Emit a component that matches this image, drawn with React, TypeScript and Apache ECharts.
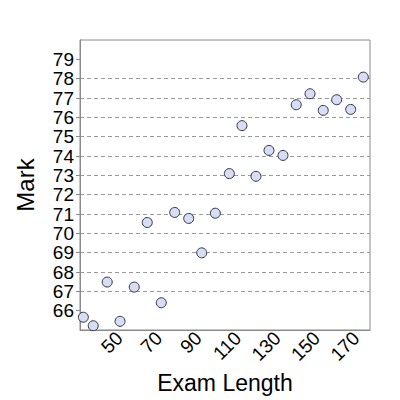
import { useEffect, useRef } from 'react'
import * as echarts from 'echarts'

// exam length vs mark
const examLength = [
  31.7, 36.7, 43.8, 50.3, 57.5, 64.1, 71.2, 78.0, 85.1, 91.7, 98.6,
  105.7, 112.1, 119.2, 125.8, 132.9, 139.6, 146.6, 153.3, 160.1, 167.2, 173.6,
]
const mark = [
  65.66, 65.22, 67.48, 65.45, 67.22, 70.56, 66.41, 71.08, 70.77, 68.99, 71.04,
  73.09, 75.57, 72.95, 74.29, 74.03, 76.65, 77.22, 76.36, 76.91, 76.41, 78.08,
]
const xTicks = [50, 70, 90, 110, 130, 150, 170]
const yTicks = [66, 67, 68, 69, 70, 71, 72, 73, 74, 75, 76, 77, 78, 79]

const FONT = "'Liberation Sans', Arial, sans-serif"
const AXIS_GREY = '#8a8a8a'

export default function App() {
  const ref = useRef<HTMLDivElement>(null)

  useEffect(() => {
    const el = ref.current
    if (!el) return
    const chart = echarts.init(el, undefined, { renderer: 'svg' })
    chart.setOption({
      animation: false,
      backgroundColor: '#fff',
      textStyle: { fontFamily: FONT },
      grid: {
        left: 80,
        right: 30,
        top: 40,
        bottom: 70,
        show: true,
        borderColor: AXIS_GREY,
        borderWidth: 1,
      },
      xAxis: {
        type: 'value',
        min: 30,
        max: 177,
        name: 'Exam Length',
        nameLocation: 'middle',
        nameGap: 41,
        nameTextStyle: { fontSize: 23, color: '#000', fontFamily: FONT },
        axisLine: { show: true, lineStyle: { color: AXIS_GREY } },
        axisTick: { show: false },
        splitLine: { show: false },
        axisLabel: {
          customValues: xTicks,
          rotate: 45,
          margin: 5,
          fontSize: 19,
          color: '#000',
          fontFamily: FONT,
        },
      },
      yAxis: {
        type: 'value',
        min: 65,
        max: 80,
        name: 'Mark',
        nameLocation: 'middle',
        nameGap: 43,
        nameTextStyle: { fontSize: 24, color: '#000', fontFamily: FONT },
        axisLine: { show: true, lineStyle: { color: AXIS_GREY } },
        axisTick: {
          show: true,
          customValues: yTicks,
          length: 4,
          lineStyle: { color: AXIS_GREY },
        },
        axisLabel: {
          customValues: yTicks,
          margin: 6,
          fontSize: 19,
          color: '#000',
          fontFamily: FONT,
        },
        splitLine: {
          show: true,
          showMinLine: false,
          showMaxLine: false,
          lineStyle: { color: '#9a9a9a', type: [4, 3], width: 1 },
        },
      },
      series: [
        {
          type: 'scatter',
          data: examLength.map((x, i) => [x, mark[i]]),
          symbol: 'circle',
          symbolSize: 10,
          itemStyle: {
            color: '#d5def5',
            borderColor: '#333344',
            borderWidth: 1,
            opacity: 1,
          },
        },
      ],
    })
    return () => chart.dispose()
  }, [])

  return (
    <div
      ref={ref}
      style={{ position: 'fixed', left: 0, top: 0, width: 400, height: 400 }}
    />
  )
}
